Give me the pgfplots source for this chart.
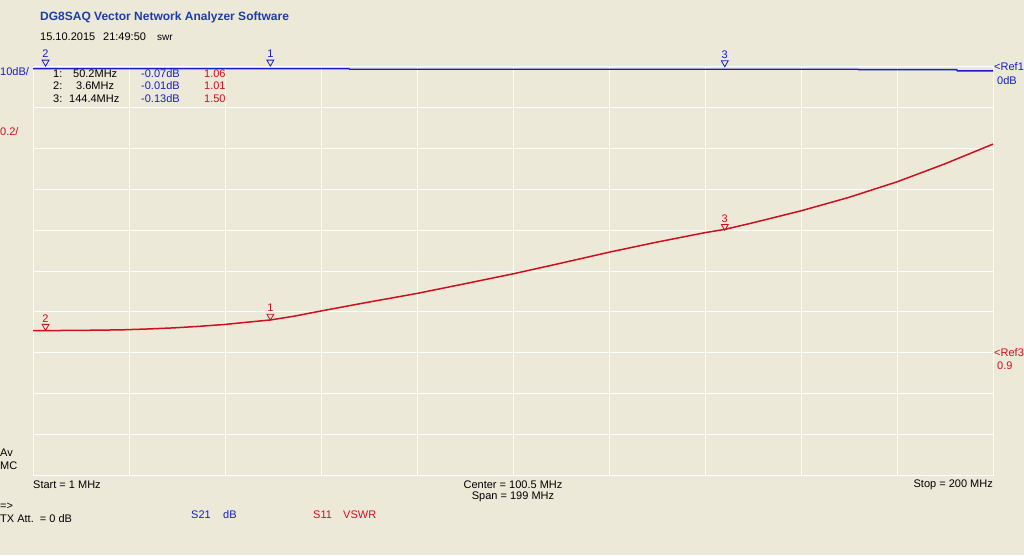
\documentclass[border=0pt]{standalone}
\usepackage{fontspec}
\setmainfont{Liberation Sans}
\usepackage{pgfplots}
\pgfplotsset{compat=1.18}

\definecolor{bg}{RGB}{236,233,216}
\definecolor{tblue}{RGB}{20,30,195}
\definecolor{ttitle}{RGB}{30,60,170}
\definecolor{tred}{RGB}{205,15,30}

% S11 VSWR trace (MHz, VSWR)
\pgfplotstableread{
f     v
1     1.008
5     1.008
10    1.009
15    1.010
20    1.012
25    1.016
30    1.021
35    1.028
40.8  1.038
45    1.048
50.2  1.060
55    1.078
60.7  1.104
70    1.145
80.6  1.190
90    1.235
100.5 1.286
110   1.336
120.4 1.392
130   1.440
140.3 1.488
144.4 1.504
150   1.535
160.2 1.595
170   1.660
180.1 1.737
190   1.825
200   1.922
}\swr

% S21 dB trace
\pgfplotstableread{
f     db
1     -0.40
66.5  -0.40
66.6  -0.55
172   -0.55
172.1 -0.65
192.5 -0.65
192.6 -0.95
200   -0.95
}\sdb

\begin{document}
\begin{tikzpicture}[every node/.style={font=\fontsize{11}{13}\selectfont, inner sep=0pt}]
\fill[bg] (0,0) rectangle (1024pt,555pt);
\useasboundingbox (0,0) rectangle (1024pt,555pt);

\begin{axis}[
  at={(33pt,80pt)}, anchor=south west,
  scale only axis, width=960pt, height=408pt,
  xmin=1, xmax=200, ymin=0.3, ymax=2.3,
  xtick={1,20.9,40.8,60.7,80.6,100.5,120.4,140.3,160.2,180.1,200},
  ytick={0.3,0.5,0.7,0.9,1.1,1.3,1.5,1.7,1.9,2.1,2.3},
  xticklabels={}, yticklabels={},
  major tick length=0pt,
  grid=major,
  major grid style={white, line width=1pt},
  axis line style={white, line width=1pt},
  clip=false,
]
\addplot[tred, line width=1.5pt] table[x=f, y=v] {\swr};
\addplot[only marks, mark=triangle, tred, mark size=4pt,
  mark options={yshift=3.8pt, rotate=180, line width=0.8pt},
  point meta=explicit symbolic, nodes near coords,
  nodes near coords style={anchor=center, yshift=8pt, text=tred}]
  coordinates {(3.6,1.01) [2] (50.2,1.06) [1] (144.4,1.50) [3]};
\end{axis}

\begin{axis}[
  at={(33pt,80pt)}, anchor=south west,
  scale only axis, width=960pt, height=408pt,
  xmin=1, xmax=200, ymin=-100, ymax=0,
  hide axis, clip=false,
]
\addplot[tblue, line width=1.3pt] table[x=f, y=db] {\sdb};
\addplot[only marks, mark=triangle, tblue, mark size=4pt,
  mark options={yshift=6.5pt, rotate=180, line width=0.8pt},
  point meta=explicit symbolic, nodes near coords,
  nodes near coords style={anchor=center, yshift=8.5pt, text=tblue}]
  coordinates {(3.6,-0.4) [2] (50.2,-0.4) [1] (144.4,-0.55) [3]};
\end{axis}

% header
\node[anchor=west, text=ttitle, font=\fontsize{12}{14}\selectfont\bfseries] at (40pt,538pt) {DG8SAQ Vector Network Analyzer Software};
\node[anchor=west] at (40pt,518pt) {15.10.2015};
\node[anchor=west] at (103pt,518pt) {21:49:50};
\node[anchor=west, font=\fontsize{10}{12}\selectfont] at (157pt,517pt) {swr};

% scale labels
\node[anchor=west, text=tblue] at (0pt,483pt) {10dB/};
\node[anchor=west, text=tred] at (0pt,423pt) {0.2/};
\node[anchor=west, text=tblue] at (994pt,488pt) {<Ref1};
\node[anchor=west, text=tblue] at (997pt,474pt) {0dB};
\node[anchor=west, text=tred] at (994pt,202pt) {<Ref3};
\node[anchor=west, text=tred] at (997pt,189pt) {0.9};

% marker table
\node[anchor=west] at (53pt,481.5pt) {1:};
\node[anchor=west] at (73pt,481.5pt) {50.2MHz};
\node[anchor=west, text=tblue] at (141pt,481.5pt) {-0.07dB};
\node[anchor=west, text=tred] at (204pt,481.5pt) {1.06};
\node[anchor=west] at (53pt,469pt) {2:};
\node[anchor=west] at (76pt,469pt) {3.6MHz};
\node[anchor=west, text=tblue] at (141pt,469pt) {-0.01dB};
\node[anchor=west, text=tred] at (204pt,469pt) {1.01};
\node[anchor=west] at (53pt,456pt) {3:};
\node[anchor=west] at (69pt,456pt) {144.4MHz};
\node[anchor=west, text=tblue] at (141pt,456pt) {-0.13dB};
\node[anchor=west, text=tred] at (204pt,456pt) {1.50};

% footer
\node[anchor=west] at (0pt,102pt) {Av};
\node[anchor=west] at (0pt,89pt) {MC};
\node[anchor=west] at (33pt,70pt) {Start = 1 MHz};
\node[anchor=center] at (513pt,70pt) {Center = 100.5 MHz};
\node[anchor=center] at (513pt,58pt) {Span = 199 MHz};
\node[anchor=east] at (993pt,70pt) {Stop = 200 MHz};
\node[anchor=west] at (0pt,49pt) {=>};
\node[anchor=west] at (0pt,36pt) {TX Att.\ \ = 0 dB};
\node[anchor=west, text=tblue] at (191pt,40pt) {S21};
\node[anchor=west, text=tblue] at (223pt,40pt) {dB};
\node[anchor=west, text=tred] at (313pt,40pt) {S11};
\node[anchor=west, text=tred] at (343pt,40pt) {VSWR};
\end{tikzpicture}
\end{document}
